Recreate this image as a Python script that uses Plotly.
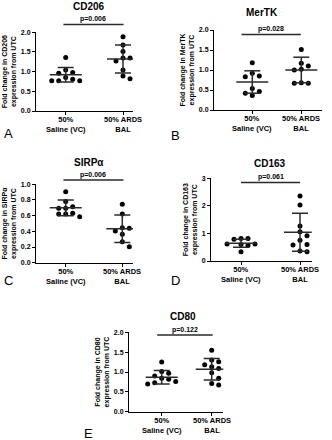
import math
import plotly.graph_objects as go

# ---------------- data ----------------
categories = ["50%<br>Saline (VC)", "50% ARDS<br>BAL"]
panel_titles = ["CD206", "MerTK", "SIRPα", "CD163", "CD80"]
panel_letters = ["A", "B", "C", "D", "E"]
p_values = ["p=0.006", "p=0.028", "p=0.006", "p=0.061", "p=0.122"]
y_titles = [
    "Fold change in CD206<br>expression from UTC",
    "Fold change in MerTK<br>expression from UTC",
    "Fold change in SIRPα<br>expression from UTC",
    "Fold change in CD163<br>expression from UTC",
    "Fold change in CD80<br>expression from UTC",
]

cd206_saline = [1.36, 1.04, 0.98, 0.96, 0.85, 0.81, 0.77, 0.77, 0.77]
cd206_ards = [1.89, 1.68, 1.51, 1.35, 1.35, 1.27, 1.04, 0.89, 0.82]
merTK_saline = [1.18, 0.92, 0.85, 0.83, 0.54, 0.46, 0.42, 0.36]
merTK_ards = [1.51, 1.17, 1.10, 1.02, 1.00, 0.68, 0.67, 0.67]
sirpa_saline = [0.906, 0.78, 0.715, 0.694, 0.694, 0.63, 0.62, 0.62, 0.587]
sirpa_ards = [0.745, 0.62, 0.447, 0.438, 0.404, 0.362, 0.268, 0.204]
cd163_saline = [0.82, 0.82, 0.79, 0.62, 0.62, 0.60, 0.56, 0.34]
cd163_ards = [2.36, 2.03, 1.27, 1.06, 0.92, 0.75, 0.60, 0.58, 0.36, 0.34]
cd80_saline = [1.25, 1.01, 0.97, 0.90, 0.84, 0.82, 0.76, 0.73, 0.70]
cd80_ards = [1.55, 1.30, 1.26, 1.18, 1.13, 1.12, 1.09, 0.98, 0.84, 0.71, 0.67]

# mean and SD as plotted (saline, ARDS)
cd206_mean = [0.92, 1.32]
cd206_sd = [0.185, 0.355]
merTK_mean = [0.70, 1.00]
merTK_sd = [0.28, 0.32]
sirpa_mean = [0.70, 0.434]
sirpa_sd = [0.10, 0.175]
cd163_mean = [0.64, 1.04]
cd163_sd = [0.145, 0.69]
cd80_mean = [0.865, 1.07]
cd80_sd = [0.17, 0.27]

y_tickvals = [
    [0, 0.5, 1.0, 1.5, 2.0],
    [0, 0.5, 1.0, 1.5, 2.0],
    [0, 0.2, 0.4, 0.6, 0.8, 1.0],
    [0, 1, 2, 3],
    [0, 0.5, 1.0, 1.5, 2.0],
]
y_ticktext = [
    ["0.0", "0.5", "1.0", "1.5", "2.0"],
    ["0.0", "0.5", "1.0", "1.5", "2.0"],
    ["0.0", "0.2", "0.4", "0.6", "0.8", "1.0"],
    ["0", "1", "2", "3"],
    ["0.0", "0.5", "1.0", "1.5", "2.0"],
]

series = [
    (cd206_saline, cd206_ards, cd206_mean, cd206_sd),
    (merTK_saline, merTK_ards, merTK_mean, merTK_sd),
    (sirpa_saline, sirpa_ards, sirpa_mean, sirpa_sd),
    (cd163_saline, cd163_ards, cd163_mean, cd163_sd),
    (cd80_saline, cd80_ards, cd80_mean, cd80_sd),
]

# ---------------- layout (pixels) ----------------
W, H = 332, 440
panels = [
    dict(xl=36, c0=65.7, c1=123, xr=133, yb=111, yt=32.3, ymax=2.0,
         tx=89, ty=7, lx=8, ly=133, pb=2.2, px=(-0.04, 1.01)),
    dict(xl=214, c0=252.3, c1=301.3, xr=322, yb=110, yt=30, ymax=2.0,
         tx=262, ty=13, lx=175, ly=135, pb=1.89, px=(-0.22, 0.99)),
    dict(xl=36, c0=65.7, c1=122.3, xr=133, yb=262.7, yt=184.3, ymax=1.0,
         tx=89, ty=162, lx=8, ly=280, pb=1.055, px=(-0.04, 1.02)),
    dict(xl=211, c0=241, c1=300, xr=311.7, yb=261, yt=178.3, ymax=3.0,
         tx=270, ty=163, lx=175, ly=280, pb=2.85, px=(0.0, 1.0)),
    dict(xl=129, c0=161.7, c1=211.7, xr=223.3, yb=411.7, yt=332.3, ymax=2.0,
         tx=183, ty=316, lx=88, ly=433, pb=1.93, px=(-0.09, 1.02)),
]

FONT = "Arial, Liberation Sans, sans-serif"
LINE_COL = "#2a2a2a"


def swarm(vals, ppy, ppx, step=7.0, dmin=5.6):
    placed = []
    offs = []
    for v in vals:
        y = v * ppy
        k = 0
        cand = [0]
        for j in range(1, 12):
            cand += [j, -j]
        for kk in cand:
            x = kk * step
            if all(math.hypot(x - a, y - b) >= dmin for a, b in placed):
                k = kk
                break
        placed.append((k * step, y))
        offs.append(k * step / ppx)
    return offs


fig = go.Figure()
annotations = []
shapes = []

for i, (p, (sal, ards, mean, sd)) in enumerate(zip(panels, series)):
    n = "" if i == 0 else str(i + 1)
    xa, ya = "x" + n, "y" + n
    ppx = p["c1"] - p["c0"]
    ppy = (p["yb"] - p["yt"]) / p["ymax"]
    r0 = -(p["c0"] - p["xl"]) / ppx
    r1 = 1 + (p["xr"] - p["c1"]) / ppx

    # points
    for ci, vals in enumerate([sal, ards]):
        offs = swarm(vals, ppy, ppx)
        fig.add_trace(go.Scatter(
            x=[ci + o for o in offs], y=vals, mode="markers",
            marker=dict(color="black", size=5),
            xaxis=xa, yaxis=ya, showlegend=False, cliponaxis=False,
            hoverinfo="skip"))

    # mean and SD lines
    mh = 16.0 / ppx
    ch = 8.0 / ppx
    lx, ly = [], []
    for ci in range(2):
        m, s = mean[ci], sd[ci]
        lx += [ci - mh, ci + mh, None, ci - ch, ci + ch, None,
               ci - ch, ci + ch, None, ci, ci, None]
        ly += [m, m, None, m + s, m + s, None,
               m - s, m - s, None, m - s, m + s, None]
    fig.add_trace(go.Scatter(
        x=lx, y=ly, mode="lines", line=dict(color=LINE_COL, width=1.5),
        xaxis=xa, yaxis=ya, showlegend=False, hoverinfo="skip"))

    xdom = [p["xl"] / W, p["xr"] / W]
    ydom = [1 - p["yb"] / H, 1 - p["yt"] / H]
    fig.update_layout(**{
        ("xaxis" + n): dict(
            domain=xdom, range=[r0, r1], tickvals=[0, 1],
            showticklabels=False,
            showline=True, linecolor="black", linewidth=1, ticks="outside",
            ticklen=3, tickcolor="black", showgrid=False, zeroline=False,
            anchor=ya, fixedrange=True),
        ("yaxis" + n): dict(
            domain=ydom, range=[0, p["ymax"]], tickvals=y_tickvals[i],
            ticktext=y_ticktext[i], showline=True, linecolor="black",
            linewidth=1, ticks="outside", ticklen=3, tickcolor="black",
            showgrid=False, zeroline=False, anchor=xa, automargin=False,
            tickfont=dict(family=FONT, size=7, color="black", weight="bold"),
            title=dict(text=y_titles[i], standoff=3,
                       font=dict(family=FONT, size=7, color="black",
                                 weight="bold")),
            fixedrange=True),
    })

    # category labels
    for ci, lab in enumerate(categories):
        annotations.append(dict(
            text=lab, xref=xa, yref=ya + " domain", x=ci, y=0,
            xanchor="center", yanchor="top", yshift=-2, showarrow=False,
            font=dict(family=FONT, size=7.5, color="black", weight="bold")))

    # p-value bar
    yfrac = p["pb"] / p["ymax"]
    shapes.append(dict(type="line", xref=xa, yref=ya + " domain",
                       x0=p["px"][0], x1=p["px"][1], y0=yfrac, y1=yfrac,
                       line=dict(color=LINE_COL, width=1.5)))
    annotations.append(dict(
        text=p_values[i], xref=xa, yref=ya + " domain",
        x=(p["px"][0] + p["px"][1]) / 2, y=yfrac, yanchor="bottom",
        yshift=-1, showarrow=False,
        font=dict(family=FONT, size=7, color="black", weight="bold")))

    # panel title
    annotations.append(dict(
        text=panel_titles[i], xref="paper", yref="paper",
        x=p["tx"] / W, y=1 - p["ty"] / H, xanchor="center", yanchor="middle",
        showarrow=False,
        font=dict(family=FONT, size=10, color="black", weight="bold")))
    # panel letter
    annotations.append(dict(
        text=panel_letters[i], xref="paper", yref="paper",
        x=p["lx"] / W, y=1 - p["ly"] / H, xanchor="center", yanchor="middle",
        showarrow=False,
        font=dict(family=FONT, size=13, color="black")))

fig.update_layout(
    width=W, height=H, margin=dict(l=0, r=0, t=0, b=0),
    paper_bgcolor="white", plot_bgcolor="white",
    annotations=annotations, shapes=shapes, showlegend=False,
)

fig.write_html("out.html",
               config={"displayModeBar": False, "staticPlot": True},
               post_script="document.body.style.margin='0';"
                           "document.body.style.overflow='hidden';")
